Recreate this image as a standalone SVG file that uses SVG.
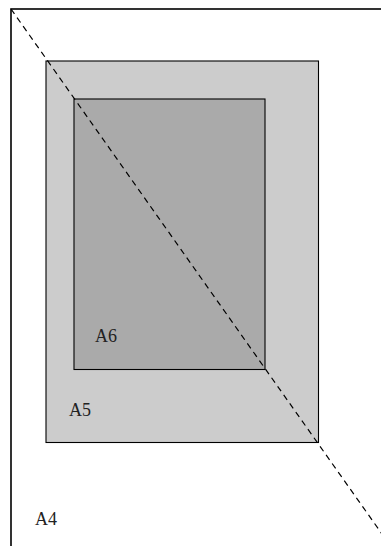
<svg xmlns="http://www.w3.org/2000/svg" width="381" height="546" viewBox="0 0 381 546">
<style>
.lbl{font-family:"Liberation Serif","DejaVu Serif",serif;font-size:18px;fill:#222}
.box{stroke:#000;stroke-width:1.1}
</style>
<rect width="381" height="546" fill="#fff"/>
<g id="A4">
<rect x="11" y="9" width="383" height="542" fill="none" stroke="#000" stroke-width="1.6"/>
<text class="lbl" x="35" y="525">A4</text>
</g>
<g id="A5">
<rect class="box" x="46" y="61" width="272.5" height="381.5" fill="#cccccc"/>
<text class="lbl" x="69" y="416">A5</text>
</g>
<g id="A6">
<rect class="box" x="74" y="99" width="191" height="270.5" fill="#aaaaaa"/>
<text class="lbl" x="95" y="342">A6</text>
</g>
<g id="connectors">
<line x1="11" y1="9" x2="394" y2="551" stroke="#000" stroke-width="1.2" stroke-dasharray="6 4.5"/>
</g>
</svg>
